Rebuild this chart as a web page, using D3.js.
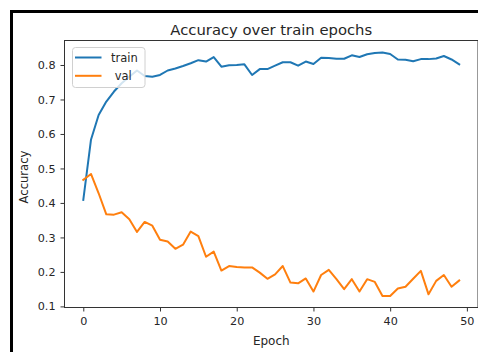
<!DOCTYPE html>
<html>
<head>
<meta charset="utf-8">
<script src="https://cdn.jsdelivr.net/npm/d3@7/dist/d3.min.js"></script>
<style>
  body { margin: 0; background: #fff; }
  svg { display: block; font-family: "DejaVu Sans", sans-serif; }
</style>
</head>
<body>
<svg id="chart" width="478" height="352"></svg>
<script>
// values
const epochs = d3.range(0, 50);
const trainAcc = [0.409, 0.583, 0.655, 0.694, 0.723, 0.747, 0.766, 0.784, 0.768, 0.766,
  0.771, 0.784, 0.790, 0.797, 0.805, 0.814, 0.810, 0.823, 0.795, 0.799,
  0.800, 0.802, 0.771, 0.788, 0.788, 0.798, 0.808, 0.808, 0.798, 0.810,
  0.803, 0.821, 0.820, 0.818, 0.818, 0.828, 0.823, 0.831, 0.835, 0.836,
  0.832, 0.816, 0.815, 0.811, 0.817, 0.817, 0.819, 0.826, 0.816, 0.802];
const valAcc = [0.467, 0.484, 0.428, 0.367, 0.366, 0.373, 0.353, 0.316, 0.345, 0.334,
  0.293, 0.288, 0.267, 0.279, 0.317, 0.304, 0.244, 0.259, 0.204, 0.217,
  0.214, 0.213, 0.213, 0.198, 0.180, 0.193, 0.217, 0.169, 0.167, 0.181,
  0.143, 0.191, 0.206, 0.179, 0.150, 0.179, 0.143, 0.179, 0.171, 0.130,
  0.130, 0.152, 0.157, 0.180, 0.203, 0.135, 0.174, 0.191, 0.157, 0.175];
const xTicks = [0, 10, 20, 30, 40, 50];
const yTicks = [0.1, 0.2, 0.3, 0.4, 0.5, 0.6, 0.7, 0.8];
const seriesNames = ["train", " val"];
const seriesColors = ["#1f77b4", "#ff7f0e"];

const svg = d3.select("#chart");
const plotL = 64.5, plotR = 478, plotT = 40.5, plotB = 307.5;
const textColor = "#262626";

// outer frame of the screenshot
svg.append("path")
  .attr("d", `M11.5,352 V11.5 H478`)
  .attr("fill", "none")
  .attr("stroke", "#000")
  .attr("stroke-width", 3);

const x = d3.scaleLinear().domain([-2.45, 51.45]).range([plotL, plotR]);
const y = d3.scaleLinear().domain([0.0968, 0.871]).range([plotB, plotT]);

// x axis
const gx = svg.append("g")
  .attr("transform", `translate(0,${plotB})`)
  .call(d3.axisBottom(x).tickValues(xTicks).tickSize(4).tickPadding(6).tickSizeOuter(0));
// y axis
const gy = svg.append("g")
  .attr("transform", `translate(${plotL},0)`)
  .call(d3.axisLeft(y).tickValues(yTicks).tickFormat(d3.format(".1f")).tickSize(4).tickPadding(5).tickSizeOuter(0));

[gx, gy].forEach(g => {
  g.select(".domain").remove();
  g.selectAll("text").attr("font-size", "11.2px").attr("fill", textColor).attr("font-family", "DejaVu Sans, sans-serif");
  g.selectAll("line").attr("stroke", "#333");
});

// spines
svg.append("rect")
  .attr("x", plotL).attr("y", plotT)
  .attr("width", plotR - plotL).attr("height", plotB - plotT)
  .attr("fill", "none").attr("stroke", "#333").attr("stroke-width", 1);

const line = d3.line().x((d, i) => x(epochs[i])).y(d => y(d));

[trainAcc, valAcc].forEach((vals, k) => {
  svg.append("path")
    .datum(vals)
    .attr("d", line)
    .attr("fill", "none")
    .attr("stroke", seriesColors[k])
    .attr("stroke-width", 2)
    .attr("stroke-linejoin", "round")
    .attr("stroke-linecap", "square");
});

// title and axis labels
svg.append("text")
  .attr("x", (plotL + plotR) / 2).attr("y", 34.5)
  .attr("text-anchor", "middle")
  .attr("font-size", "14.8px").attr("fill", textColor)
  .text("Accuracy over train epochs");

svg.append("text")
  .attr("x", (plotL + plotR) / 2).attr("y", 345)
  .attr("text-anchor", "middle")
  .attr("font-size", "12px").attr("fill", textColor)
  .text("Epoch");

svg.append("text")
  .attr("transform", `translate(27.5,177) rotate(-90)`)
  .attr("text-anchor", "middle")
  .attr("font-size", "11.6px").attr("fill", textColor)
  .text("Accuracy");

// legend
const lg = svg.append("g").attr("transform", "translate(72.5,47.5)");
lg.append("rect")
  .attr("width", 72.5).attr("height", 40)
  .attr("rx", 3)
  .attr("fill", "#fff").attr("fill-opacity", 0.8)
  .attr("stroke", "#d0d0d0").attr("stroke-width", 1);
seriesNames.forEach((name, k) => {
  const row = lg.append("g").attr("transform", `translate(0,${10 + k * 18.3})`);
  row.append("line")
    .attr("x1", 2.5).attr("x2", 29)
    .attr("stroke", seriesColors[k]).attr("stroke-width", 2);
  row.append("text")
    .attr("x", 38.5).attr("y", 4)
    .attr("font-size", "11.5px").attr("fill", textColor)
    .attr("xml:space", "preserve")
    .style("white-space", "pre")
    .text(name);
});
</script>
</body>
</html>
